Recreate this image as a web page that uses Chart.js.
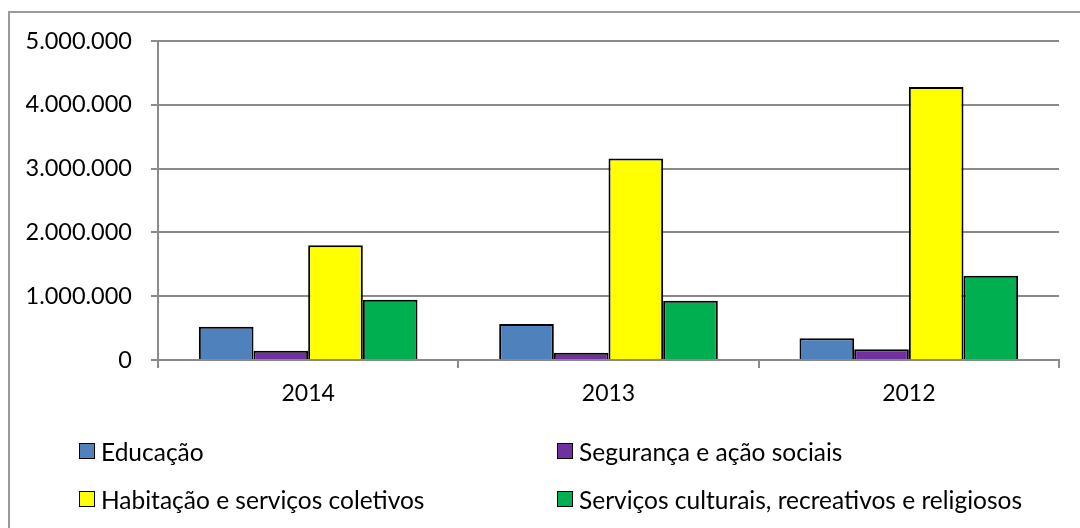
<!DOCTYPE html>
<html>
<head>
<meta charset="utf-8">
<script src="https://cdn.jsdelivr.net/npm/chart.js@4/dist/chart.umd.min.js"></script>
<style>
  html, body { margin:0; padding:0; background:#fff; }
  #wrap { position:relative; width:1080px; height:528px; overflow:hidden; }
  #frame { position:absolute; left:8px; top:11px; width:1200px; height:600px; border:2px solid #9a9a9a; box-sizing:border-box; }
  canvas { position:absolute; left:0; top:0; }
  .lg { position:absolute; font-family:Lato, sans-serif; font-size:24.5px; color:#000; white-space:nowrap; display:flex; align-items:center; }
  .lg .bx { width:14px; height:14px; border:1.5px solid #000; margin-right:6px; flex:none; }
</style>
</head>
<body>
<div id="wrap">
  <div id="frame"></div>
  <canvas id="c" width="1080" height="528"></canvas>
  <div id="legend"></div>
</div>
<script>
const categories = ['2014', '2013', '2012'];
const educacao   = [520000, 565000, 340000];
const seguranca  = [145000, 115000, 170000];
const habitacao  = [1800000, 3160000, 4280000];
const culturais  = [945000, 930000, 1320000];
const yTicks = [0, 1000000, 2000000, 3000000, 4000000, 5000000];

const seriesNames = ['Educação', 'Segurança e ação sociais', 'Habitação e serviços coletivos', 'Serviços culturais, recreativos e religiosos'];
const seriesColors = ['#4F81BD', '#7030A0', '#FFFF00', '#00B050'];
const seriesData = [educacao, seguranca, habitacao, culturais];

const fmt = v => v.toString().replace(/\B(?=(\d{3})+(?!\d))/g, '.');

const datasets = seriesNames.map((n, i) => ({
  label: n,
  data: seriesData[i],
  backgroundColor: seriesColors[i],
  borderColor: '#000',
  borderWidth: 2,
  borderSkipped: 'bottom',
  categoryPercentage: 0.728,
  barPercentage: 1.0
}));

const chart = new Chart(document.getElementById('c'), {
  type: 'bar',
  data: { labels: categories, datasets },
  options: {
    responsive: false,
    animation: false,
    devicePixelRatio: 1,
    layout: { padding: { top: 41, right: 21, left: 0, bottom: 0 } },
    plugins: { legend: { display: false }, tooltip: { enabled: false } },
    scales: {
      x: {
        grid: { display: true, drawOnChartArea: false, tickLength: 8, color: '#8a8a8a', lineWidth: 2, offset: true },
        border: { display: true, color: '#8a8a8a', width: 2 },
        ticks: { color: '#000', font: { family: 'Lato', size: 23 }, padding: 12 },
        afterFit: s => { s.height = 168; }
      },
      y: {
        min: 0, max: 5000000,
        afterBuildTicks: s => { s.ticks = yTicks.map(v => ({ value: v })); },
        grid: { color: '#8a8a8a', lineWidth: 2, tickLength: 7 },
        border: { display: true, color: '#8a8a8a', width: 2 },
        ticks: { color: '#000', font: { family: 'Lato', size: 23.5 }, padding: 19, callback: v => fmt(v) },
        afterFit: s => { s.width = 158; }
      }
    }
  }
});

// Legend (two columns) built from the datasets
const legendPos = [[79, 451], [557, 451], [79, 499], [557, 499]];
const lg = document.getElementById('legend');
chart.data.datasets.forEach((d, i) => {
  const el = document.createElement('div');
  el.className = 'lg';
  el.style.left = legendPos[i][0] + 'px';
  el.style.top = (legendPos[i][1] - 15) + 'px';
  el.style.height = '30px';
  el.innerHTML = '<span class="bx" style="background:' + d.backgroundColor + '"></span><span>' + d.label + '</span>';
  lg.appendChild(el);
});
</script>
</body>
</html>
